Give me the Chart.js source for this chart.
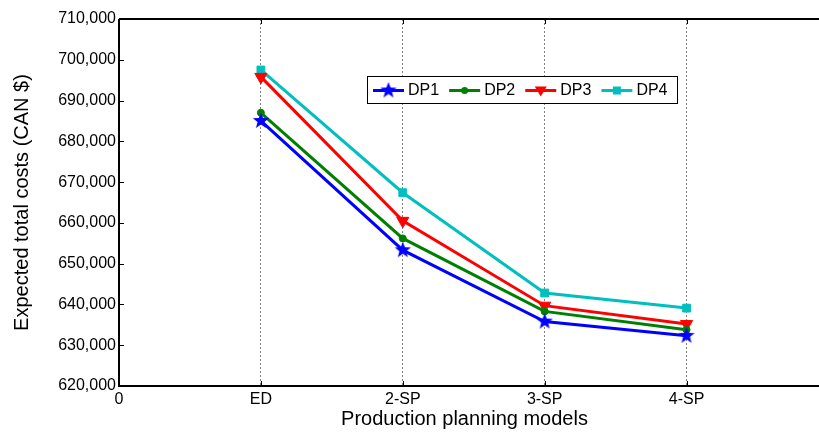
<!DOCTYPE html>
<html>
<head>
<meta charset="utf-8">
<script src="https://cdn.jsdelivr.net/npm/chart.js@4/dist/chart.umd.min.js"></script>
<style>
  html, body { margin: 0; padding: 0; background: #fff; overflow: hidden; }
  #wrap { width: 819px; height: 432px; }
</style>
</head>
<body>
<div id="wrap"><canvas id="myChart"></canvas></div>
<script>
const xLabels = ['0', 'ED', '2-SP', '3-SP', '4-SP']
const xValues = [1, 2, 3, 4]
const dp1 = [685000, 653300, 635800, 632300]
const dp2 = [687000, 656200, 638300, 633800]
const dp3 = [695800, 660500, 639700, 635200]
const dp4 = [697500, 667400, 642800, 639100]
const yTicks = [620000, 630000, 640000, 650000, 660000, 670000, 680000, 690000, 700000, 710000]

const fontName = '"Liberation Sans", Arial, sans-serif'

// filled five point star for DP1
function makeStar(color) {
    let c = document.createElement('canvas')
    c.width = 18
    c.height = 18
    let g = c.getContext('2d')
    g.fillStyle = color
    g.beginPath()
    for (let i = 0; i < 10; i++) {
        let r = i % 2 === 0 ? 8.5 : 3.6
        let a = -Math.PI / 2 + i * Math.PI / 5
        let px = 9 + r * Math.cos(a)
        let py = 9 + r * Math.sin(a)
        if (i === 0) g.moveTo(px, py)
        else g.lineTo(px, py)
    }
    g.closePath()
    g.fill()
    return c
}
const star = makeStar('#0000FF')

function toPoints(arr) {
    return arr.map((v, i) => ({ x: xValues[i], y: v }))
}

const datasets = [
    { label: 'DP1', data: toPoints(dp1), borderColor: '#0000FF', backgroundColor: '#0000FF',
      pointStyle: star, pointRadius: 8 },
    { label: 'DP2', data: toPoints(dp2), borderColor: '#008000', backgroundColor: '#008000',
      pointStyle: 'circle', pointRadius: 3.5 },
    { label: 'DP3', data: toPoints(dp3), borderColor: '#FF0000', backgroundColor: '#FF0000',
      pointStyle: 'triangle', pointRotation: 180, pointRadius: 7 },
    { label: 'DP4', data: toPoints(dp4), borderColor: '#00BFBF', backgroundColor: '#00BFBF',
      pointStyle: 'rect', pointRadius: 5.5 }
]
datasets.forEach(d => {
    d.borderWidth = 3
    d.pointBorderWidth = 1
    d.pointHoverRadius = d.pointRadius
    d.tension = 0
})

function drawMarker(ctx, ds, x, y) {
    ctx.save()
    ctx.fillStyle = ds.backgroundColor
    if (ds.pointStyle === star) {
        ctx.drawImage(star, x - 9, y - 9)
    } else if (ds.pointStyle === 'circle') {
        ctx.beginPath()
        ctx.arc(x, y, 3.5, 0, Math.PI * 2)
        ctx.fill()
    } else if (ds.pointStyle === 'triangle') {
        ctx.beginPath()
        ctx.moveTo(x - 6, y - 4)
        ctx.lineTo(x + 6, y - 4)
        ctx.lineTo(x, y + 6)
        ctx.closePath()
        ctx.fill()
    } else {
        ctx.fillRect(x - 4, y - 4, 8, 8)
    }
    ctx.restore()
}

// frame (axes run off the right edge like the cropped original), inward ticks, boxed legend
const framePlugin = {
    id: 'frame',
    afterDraw(chart) {
        let ctx = chart.ctx
        let a = chart.chartArea
        let xs = chart.scales.x
        let ys = chart.scales.y
        let edge = chart.width
        ctx.save()
        ctx.strokeStyle = '#000'
        ctx.lineWidth = 2
        ctx.beginPath()
        ctx.moveTo(a.left, a.top)
        ctx.lineTo(edge, a.top)
        ctx.moveTo(a.left, a.top)
        ctx.lineTo(a.left, a.bottom)
        ctx.lineTo(edge, a.bottom)
        ctx.stroke()

        ctx.lineWidth = 1
        ctx.beginPath()
        yTicks.forEach(v => {
            let py = Math.round(ys.getPixelForValue(v)) + 0.5
            ctx.moveTo(a.left, py)
            ctx.lineTo(a.left + 5, py)
        })
        xValues.forEach(v => {
            let px = Math.round(xs.getPixelForValue(v)) + 0.5
            ctx.moveTo(px, a.bottom)
            ctx.lineTo(px, a.bottom - 5)
            ctx.moveTo(px, a.top)
            ctx.lineTo(px, a.top + 5)
        })
        ctx.stroke()

        // legend box
        let bx = 367, by = 76, bw = 310, bh = 27
        ctx.fillStyle = '#fff'
        ctx.fillRect(bx, by, bw, bh)
        ctx.strokeStyle = '#000'
        ctx.lineWidth = 1
        ctx.strokeRect(bx + 0.5, by + 0.5, bw, bh)
        ctx.font = '16px ' + fontName
        ctx.textBaseline = 'middle'
        ctx.textAlign = 'left'
        let cy = by + bh / 2 + 1
        let cx = bx + 6
        chart.data.datasets.forEach(ds => {
            ctx.strokeStyle = ds.borderColor
            ctx.lineWidth = 3
            ctx.beginPath()
            ctx.moveTo(cx, cy)
            ctx.lineTo(cx + 31, cy)
            ctx.stroke()
            drawMarker(ctx, ds, cx + 15.5, cy)
            ctx.fillStyle = '#000'
            ctx.fillText(ds.label, cx + 35, cy)
            cx += 35 + ctx.measureText(ds.label).width + 10
        })
        ctx.restore()
    }
}

new Chart(document.getElementById('myChart'), {
    type: 'line',
    data: { datasets: datasets },
    plugins: [framePlugin],
    options: {
        responsive: true,
        maintainAspectRatio: false,
        animation: false,
        layout: { padding: { left: 0, right: 0, top: 19, bottom: 0 } },
        plugins: {
            legend: { display: false },
            tooltip: { enabled: false }
        },
        scales: {
            x: {
                type: 'linear',
                min: 0,
                max: 4.87,
                afterBuildTicks: s => { s.ticks = [0, 1, 2, 3, 4].map(v => ({ value: v })) },
                afterFit: s => { s.height = 46 },
                ticks: {
                    callback: v => xLabels[v],
                    font: { family: fontName, size: 16 },
                    color: '#000',
                    padding: 4,
                    maxRotation: 0,
                    autoSkip: false
                },
                grid: {
                    drawTicks: false,
                    lineWidth: 1,
                    color: c => (c.tick && c.tick.value === 0) ? 'rgba(0,0,0,0)' : '#808080'
                },
                border: { display: false, dash: [2, 2] },
                title: {
                    display: true,
                    text: 'Production planning models',
                    font: { family: fontName, size: 20 },
                    color: '#000',
                    padding: { top: 0, bottom: 1 }
                }
            },
            y: {
                min: 620000,
                max: 710000,
                afterBuildTicks: s => { s.ticks = yTicks.map(v => ({ value: v })) },
                afterFit: s => { s.width = 119 },
                ticks: {
                    callback: v => v.toLocaleString('en-US'),
                    font: { family: fontName, size: 16 },
                    color: '#000',
                    padding: 3
                },
                grid: { display: false, drawTicks: false },
                border: { display: false },
                title: {
                    display: true,
                    text: 'Expected total costs (CAN $)',
                    font: { family: fontName, size: 20 },
                    color: '#000',
                    padding: { top: 10, bottom: 0 }
                }
            }
        }
    }
})
</script>
</body>
</html>
